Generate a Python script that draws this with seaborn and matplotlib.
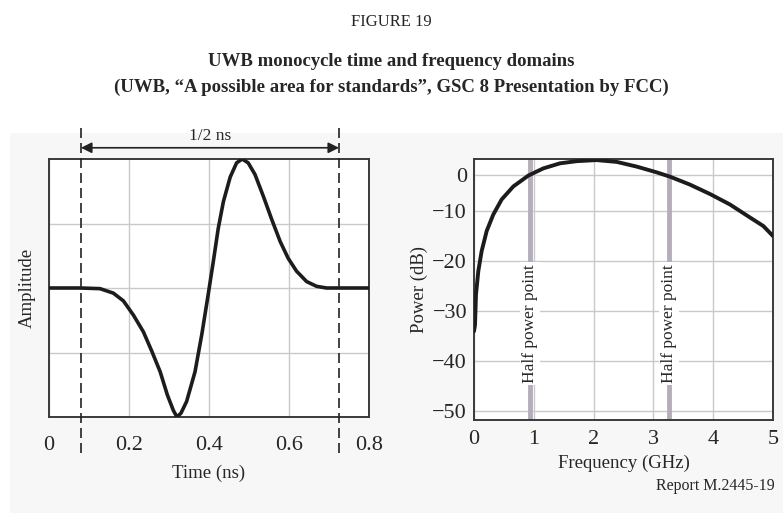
import numpy as np
import matplotlib
matplotlib.use("Agg")
import matplotlib.pyplot as plt
import seaborn as sns
import pandas as pd
from matplotlib.patches import Rectangle

# --- data ---
# time domain monocycle (ns, normalised amplitude)
time_ns = [0.0, 0.0775, 0.1275, 0.161, 0.186, 0.211, 0.236, 0.257, 0.278,
           0.296, 0.311, 0.32, 0.33, 0.344, 0.365, 0.382, 0.398, 0.411, 0.423,
           0.436, 0.453, 0.469, 0.483, 0.498, 0.515, 0.536, 0.557, 0.578,
           0.598, 0.619, 0.644, 0.669, 0.694, 0.8]
amplitude = [0.0, 0.0, -0.005, -0.04, -0.10, -0.21, -0.34, -0.49, -0.65,
             -0.83, -0.95, -1.0, -0.97, -0.88, -0.65, -0.36, -0.05, 0.21, 0.46,
             0.67, 0.86, 0.97, 1.0, 0.97, 0.88, 0.71, 0.53, 0.36,
             0.23, 0.13, 0.05, 0.013, 0.0, 0.0]
pulse_window = [0.08, 0.725]

# frequency domain spectrum (GHz, dB)
freq_ghz = [0.0, 0.017, 0.033, 0.072, 0.128, 0.212, 0.323, 0.463, 0.658,
            0.908, 1.159, 1.438, 1.717, 2.05, 2.386, 2.72, 3.055, 3.278,
            3.612, 3.946, 4.28, 4.615, 4.838, 5.0]
power_db = [-34.0, -32.7, -26.7, -22.0, -18.0, -14.0, -10.7, -6.8, -3.2,
            -0.2, 1.8, 3.2, 3.8, 4.1, 3.6, 2.3, 0.7, -0.5,
            -2.7, -5.3, -8.2, -11.3, -13.0, -15.0]
half_power_ghz = [0.94, 3.26]

time_ticks = [0, 0.2, 0.4, 0.6, 0.8]
time_tick_labels = ["0", "0.2", "0.4", "0.6", "0.8"]
freq_ticks = [0, 1, 2, 3, 4, 5]
power_ticks = [0, -10, -20, -30, -40, -50]
power_tick_labels = ["0", "\u221210", "\u221220", "\u221230", "\u221240", "\u221250"]

df_t = pd.DataFrame({"t": time_ns, "a": amplitude})
df_f = pd.DataFrame({"f": freq_ghz, "p": power_db})

sns.set_theme(style="white")
plt.rcParams["font.family"] = ["Liberation Serif", "DejaVu Serif"]
plt.rcParams["axes.unicode_minus"] = True

fig = plt.figure(figsize=(7.83, 5.13), dpi=100)
W, H = 783, 513

# faint grey panel behind the charts
fig.patches.append(Rectangle((10 / W, 0), 1 - 10 / W, (H - 133) / H,
                             transform=fig.transFigure, facecolor="#f7f7f7",
                             edgecolor="none", zorder=-10))

fig.text(0.5, 1 - 22 / H, "FIGURE 19", ha="center", va="center", fontsize=12)
fig.text(0.5, 1 - 62 / H, "UWB monocycle time and frequency domains",
         ha="center", va="center", fontsize=13.5, fontweight="bold")
fig.text(0.5, 1 - 87 / H,
         "(UWB, \u201cA possible area for standards\u201d, GSC 8 Presentation by FCC)",
         ha="center", va="center", fontsize=13.5, fontweight="bold")

grid_c = "#c9c9c9"
spine_c = "#3a3a3a"
curve_c = "#1c1c1c"

# ---------------- left: time domain ----------------
ax1 = fig.add_axes([49 / W, (H - 417) / H, 320 / W, 258 / H])
ax1.set_facecolor("white")
sns.lineplot(data=df_t, x="t", y="a", ax=ax1, color=curve_c, lw=2.6, zorder=3)
ax1.set_xlim(0, 0.8)
ax1.set_ylim(-1, 1)
ax1.set_xticks(time_ticks)
ax1.set_xticklabels(time_tick_labels)
ax1.set_yticks([-0.5, 0, 0.5])
ax1.set_yticklabels([])
ax1.grid(True, color=grid_c, lw=1)
ax1.tick_params(axis="both", length=0, labelsize=16, pad=14)
ax1.set_xlabel("Time (ns)", fontsize=13.5)
ax1.set_ylabel("Amplitude", fontsize=13.5)
ax1.xaxis.set_label_coords(0.5, -(465 - 417) / 258)
ax1.yaxis.set_label_coords(-(49 - 36) / 320, 0.5)
for s in ax1.spines.values():
    s.set_color(spine_c)
    s.set_linewidth(1.4)

# dashed window markers and the 1/2 ns arrow
for x in pulse_window:
    ax1.axvline(x, ymin=-0.14, ymax=1.12, color="#222222", lw=1.2,
                ls=(0, (6, 3)), clip_on=False, zorder=4)
ax1.annotate("", xy=(pulse_window[1], 1.087), xytext=(pulse_window[0], 1.087),
             xycoords="data", annotation_clip=False,
             arrowprops=dict(arrowstyle="<|-|>", color="#222222", lw=1.2,
                             mutation_scale=16, shrinkA=0, shrinkB=0))
ax1.text(sum(pulse_window) / 2, 1.18, "1/2 ns", ha="center", va="center",
         fontsize=12.5, clip_on=False)

# ---------------- right: frequency domain ----------------
def fwd(y):
    y = np.asarray(y, dtype=float)
    return np.where(y <= -10, y, -10 + (y + 10) * 0.72)


def inv(z):
    z = np.asarray(z, dtype=float)
    return np.where(z <= -10, z, -10 + (z + 10) / 0.72)


ax2 = fig.add_axes([474 / W, (H - 420) / H, 299 / W, 261 / H])
ax2.set_facecolor("white")
ax2.set_yscale("function", functions=(fwd, inv))
ax2.set_xlim(0, 5)
ax2.set_ylim(-51.7, 4.4)
ax2.set_xticks(freq_ticks)
ax2.set_yticks(power_ticks)
ax2.set_yticklabels(power_tick_labels)
ax2.grid(True, color=grid_c, lw=1)
ax2.tick_params(axis="both", length=0, labelsize=16)
ax2.tick_params(axis="x", pad=7)
ax2.tick_params(axis="y", pad=5)
for s in ax2.spines.values():
    s.set_color(spine_c)
    s.set_linewidth(1.4)

for x in half_power_ghz:
    ax2.axvline(x, color="#b5adb9", lw=3.5, zorder=2)
    ax2.text(x, -32.5, "Half power point", rotation=90, ha="center",
             va="center", fontsize=12.5, zorder=5,
             bbox=dict(facecolor="white", edgecolor="none", pad=1.5))

sns.lineplot(data=df_f, x="f", y="p", ax=ax2, color=curve_c, lw=2.8, zorder=3)
ax2.set_xlabel("Frequency (GHz)", fontsize=13.5)
ax2.set_ylabel("Power (dB)", fontsize=13.5)
ax2.xaxis.set_label_coords(0.5, -(455 - 420) / 261)
ax2.yaxis.set_label_coords(-(474 - 428) / 299, 0.5)

fig.text(775 / W, 1 - 486 / H, "Report M.2445-19", ha="right", va="center",
         fontsize=11.5)

fig.savefig("out.png", dpi=100)
